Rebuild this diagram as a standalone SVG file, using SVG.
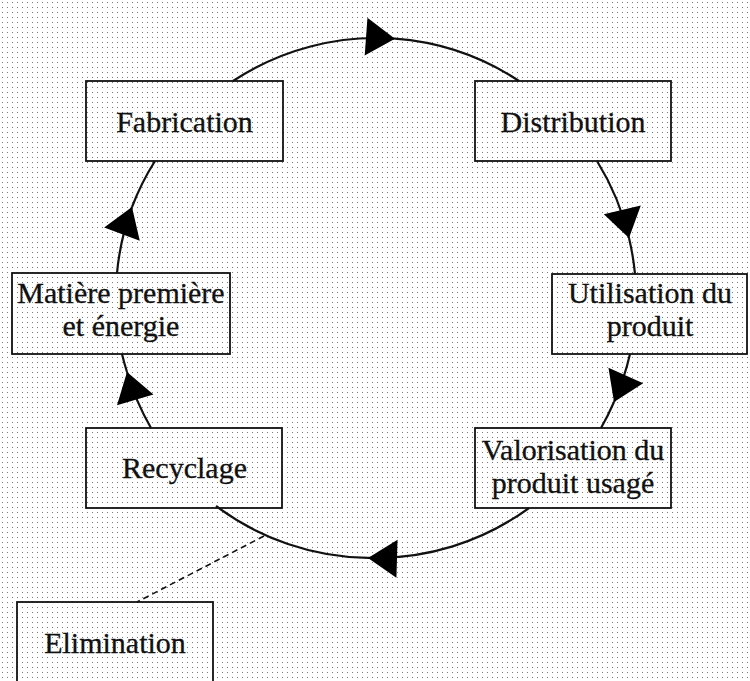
<svg xmlns="http://www.w3.org/2000/svg" width="750" height="681" viewBox="0 0 750 681">
  <style>
    .box { fill: none; stroke: #111; stroke-width: 1.8; }
    .lbl { font-family: "Liberation Serif", "Times New Roman", serif; font-size: 30px; fill: #111; stroke: #111; stroke-width: 0.3; text-anchor: middle; }
    .arc { fill: none; stroke: #111; stroke-width: 2.2; }
    .dash { fill: none; stroke: #111; stroke-width: 1.6; stroke-dasharray: 6 4; }
  </style>
  <defs>
    <pattern id="grid" width="5" height="5" patternUnits="userSpaceOnUse">
      <rect x="2" y="2" width="1" height="1" fill="#7a7a7a"/>
    </pattern>
    <marker id="arrow" markerUnits="userSpaceOnUse" markerWidth="40" markerHeight="44" viewBox="-32 -22 34 44" refX="0" refY="0" orient="auto">
      <polygon points="0,0 -29,-19 -29,19" fill="#000"/>
    </marker>
  </defs>
  <rect width="750" height="681" fill="#fff"/>
  <rect width="750" height="681" fill="url(#grid)"/>

  <g id="connectors">
    <!-- Fabrication -> Distribution -->
    <path class="arc" d="M 233 81 A 260 260 0 0 1 395 38.7" marker-end="url(#arrow)"/>
    <path class="arc" d="M 395 38.7 A 260 260 0 0 1 519 81"/>
    <!-- Distribution -> Utilisation -->
    <path class="arc" d="M 597 161 A 260 260 0 0 1 629 238" marker-end="url(#arrow)"/>
    <path class="arc" d="M 629 238 A 260 260 0 0 1 635 274"/>
    <!-- Utilisation -> Valorisation -->
    <path class="arc" d="M 630 354 A 260 260 0 0 1 614 402" marker-end="url(#arrow)"/>
    <path class="arc" d="M 614 402 A 260 260 0 0 1 601 428"/>
    <!-- Valorisation -> Recyclage -->
    <path class="arc" d="M 529 508 A 260 260 0 0 1 368 557.9" marker-end="url(#arrow)"/>
    <path class="arc" d="M 368 557.9 A 260 260 0 0 1 216 506"/>
    <!-- Recyclage -> Matiere -->
    <path class="arc" d="M 151 428 A 260 260 0 0 1 127 372" marker-end="url(#arrow)"/>
    <path class="arc" d="M 127 372 A 260 260 0 0 1 122 354"/>
    <!-- Matiere -> Fabrication -->
    <path class="arc" d="M 117 273 A 260 260 0 0 1 132 207" marker-end="url(#arrow)"/>
    <path class="arc" d="M 132 207 A 260 260 0 0 1 155 161"/>
    <!-- Recyclage loop -> Elimination (dashed) -->
    <path class="dash" d="M 264 536 L 137 602"/>
  </g>

  <g id="fabrication">
    <rect class="box" x="86" y="81" width="197" height="80"/>
    <text class="lbl" x="184.5" y="132">Fabrication</text>
  </g>
  <g id="distribution">
    <rect class="box" x="475" y="81" width="196" height="80"/>
    <text class="lbl" x="573" y="132">Distribution</text>
  </g>
  <g id="matiere">
    <rect class="box" x="12" y="273" width="218" height="81"/>
    <text class="lbl" x="121" y="303">Matière première</text>
    <text class="lbl" x="121" y="336">et énergie</text>
  </g>
  <g id="utilisation">
    <rect class="box" x="552" y="274" width="195" height="80"/>
    <text class="lbl" x="650" y="303">Utilisation du</text>
    <text class="lbl" x="650" y="336">produit</text>
  </g>
  <g id="valorisation">
    <rect class="box" x="475" y="428" width="196" height="80"/>
    <text class="lbl" x="573" y="460">Valorisation du</text>
    <text class="lbl" x="573" y="493">produit usagé</text>
  </g>
  <g id="recyclage">
    <rect class="box" x="86" y="428" width="196" height="80"/>
    <text class="lbl" x="184.5" y="478">Recyclage</text>
  </g>
  <g id="elimination">
    <rect class="box" x="17" y="602" width="196" height="90"/>
    <text class="lbl" x="115" y="653">Elimination</text>
  </g>
</svg>
